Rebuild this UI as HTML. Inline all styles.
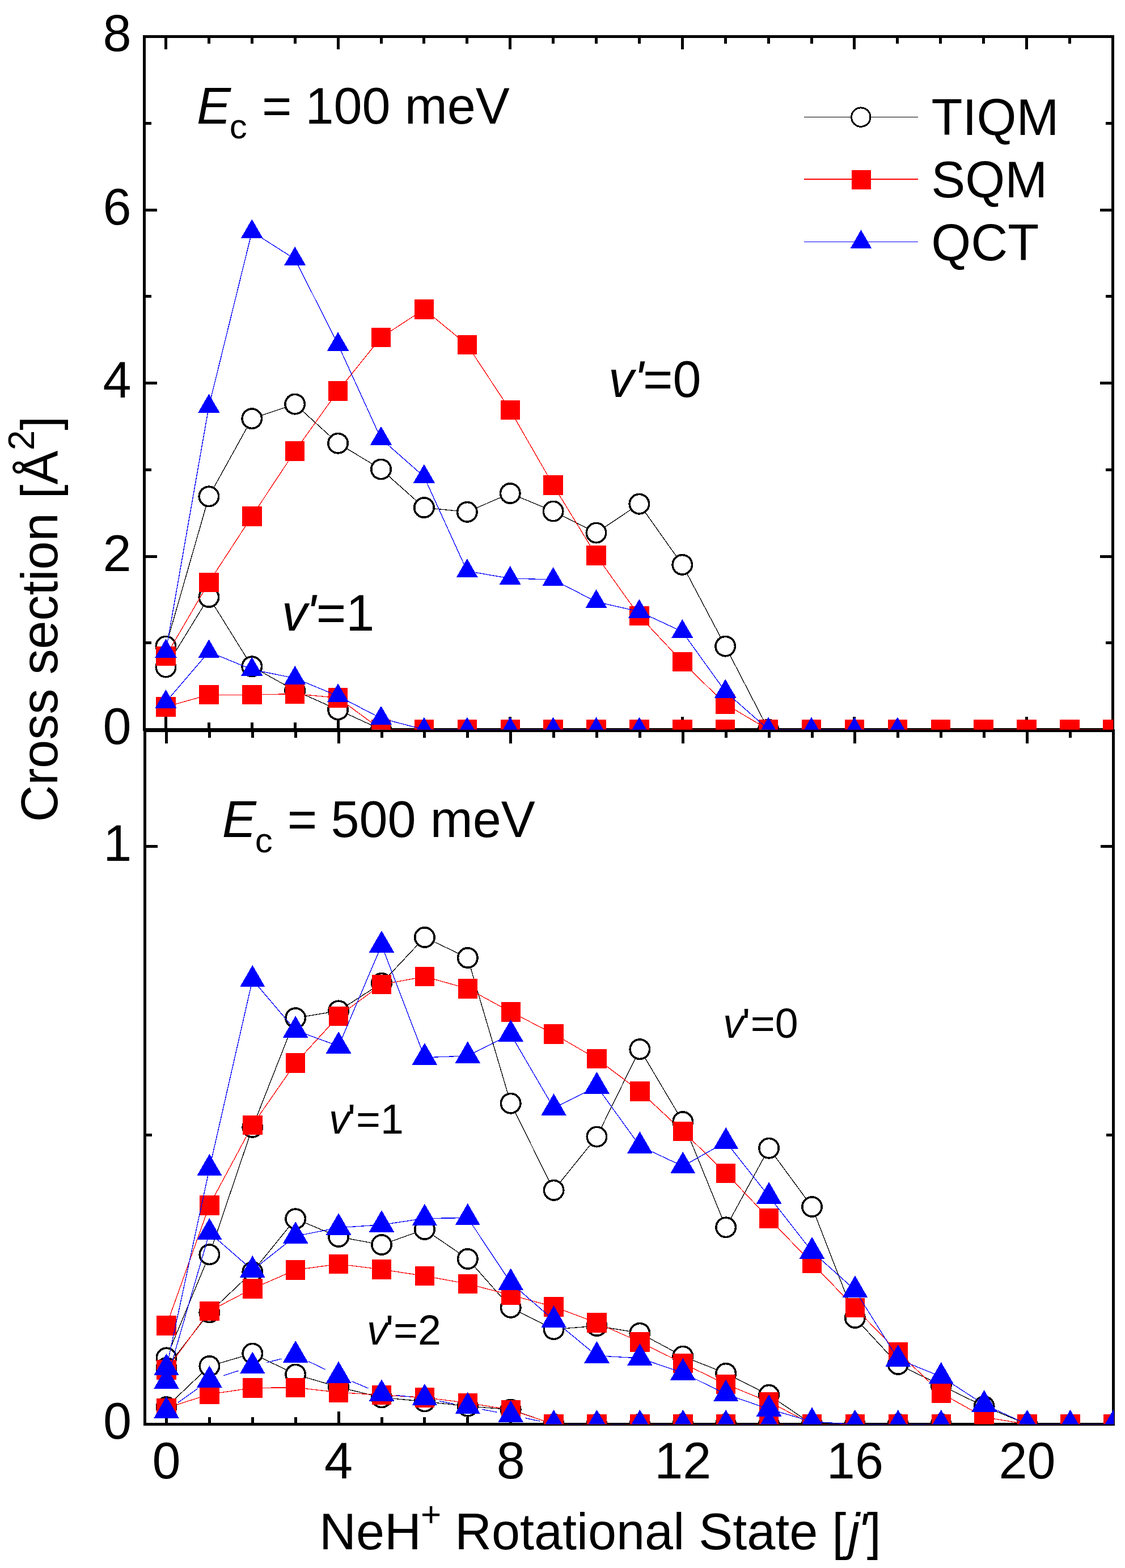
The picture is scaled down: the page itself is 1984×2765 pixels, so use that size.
<!DOCTYPE html>
<html><head><meta charset="utf-8"><title>NeH+ rotational state cross sections</title>
<style>html,body{margin:0;padding:0;background:#fff;}svg{display:block;}</style>
</head><body>
<svg width="1984" height="2765" viewBox="0 0 1984 2765" shape-rendering="crispEdges">
<defs><clipPath id="ct"><rect x="254.5" y="40" width="1709" height="1246.5"/></clipPath><clipPath id="cb"><rect x="255.5" y="1288.5" width="1709" height="1223"/></clipPath></defs>
<rect width="100%" height="100%" fill="#fff"/>
<g stroke="#000" stroke-width="5" fill="none">
<path d="M254.5 62V1289M252 64.5H1965M1962.5 62V1289M252 1286.5H1965"/>
<path d="M255.5 1286V2514M253 1288.5H1966M1963.5 1286V2514M253 2511.5H1966"/>
</g>
<path stroke="#000" stroke-width="5" fill="none" d="M292.5 67v20M292.5 1284v-20M293.5 1291v20M293.5 2509v-20M368.4 67v10M368.4 1284v-10M369.4 1291v10M369.4 2509v-10M444.3 67v10M444.3 1284v-10M445.3 1291v10M445.3 2509v-10M520.2 67v10M520.2 1284v-10M521.2 1291v10M521.2 2509v-10M596.1 67v20M596.1 1284v-20M597.1 1291v20M597.1 2509v-20M672 67v10M672 1284v-10M673 1291v10M673 2509v-10M747.9 67v10M747.9 1284v-10M748.9 1291v10M748.9 2509v-10M823.8 67v10M823.8 1284v-10M824.8 1291v10M824.8 2509v-10M899.7 67v20M899.7 1284v-20M900.7 1291v20M900.7 2509v-20M975.6 67v10M975.6 1284v-10M976.6 1291v10M976.6 2509v-10M1051.5 67v10M1051.5 1284v-10M1052.5 1291v10M1052.5 2509v-10M1127.4 67v10M1127.4 1284v-10M1128.4 1291v10M1128.4 2509v-10M1203.3 67v20M1203.3 1284v-20M1204.3 1291v20M1204.3 2509v-20M1279.2 67v10M1279.2 1284v-10M1280.2 1291v10M1280.2 2509v-10M1355.1 67v10M1355.1 1284v-10M1356.1 1291v10M1356.1 2509v-10M1431 67v10M1431 1284v-10M1432 1291v10M1432 2509v-10M1506.9 67v20M1506.9 1284v-20M1507.9 1291v20M1507.9 2509v-20M1582.8 67v10M1582.8 1284v-10M1583.8 1291v10M1583.8 2509v-10M1658.7 67v10M1658.7 1284v-10M1659.7 1291v10M1659.7 2509v-10M1734.6 67v10M1734.6 1284v-10M1735.6 1291v10M1735.6 2509v-10M1810.5 67v20M1810.5 1284v-20M1811.5 1291v20M1811.5 2509v-20M1886.4 67v10M1886.4 1284v-10M1887.4 1291v10M1887.4 2509v-10M1962.3 67v10M1962.3 1284v-10M1963.3 1291v10M1963.3 2509v-10M257 1286.5h20M1960 1286.5h-20M257 1133.75h10M1960 1133.75h-10M257 981h20M1960 981h-20M257 828.25h10M1960 828.25h-10M257 675.5h20M1960 675.5h-20M257 522.75h10M1960 522.75h-10M257 370h20M1960 370h-20M257 217.25h10M1960 217.25h-10M257 64.5h20M1960 64.5h-20M258 2001.75h10M1961 2001.75h-10M258 1492h20M1961 1492h-20"/>
<g clip-path="url(#ct)"><polyline points="292.5,1139.5 368.4,875.4 444.3,738.2 520.2,712.6 596.1,781.7 672,827.5 747.9,895.1 823.8,902.8 899.7,870 975.6,901.5 1051.5,939.6 1127.4,888.7 1203.3,995.8 1279.2,1139.6 1355.1,1286.5" fill="none" stroke="#000" stroke-width="1.3" stroke-linejoin="round" shape-rendering="crispEdges"/>
<g fill="#fff" stroke="#000" stroke-width="3.6"><circle cx="292.5" cy="1139.5" r="17.2"/><circle cx="368.4" cy="875.4" r="17.2"/><circle cx="444.3" cy="738.2" r="17.2"/><circle cx="520.2" cy="712.6" r="17.2"/><circle cx="596.1" cy="781.7" r="17.2"/><circle cx="672" cy="827.5" r="17.2"/><circle cx="747.9" cy="895.1" r="17.2"/><circle cx="823.8" cy="902.8" r="17.2"/><circle cx="899.7" cy="870" r="17.2"/><circle cx="975.6" cy="901.5" r="17.2"/><circle cx="1051.5" cy="939.6" r="17.2"/><circle cx="1127.4" cy="888.7" r="17.2"/><circle cx="1203.3" cy="995.8" r="17.2"/><circle cx="1279.2" cy="1139.6" r="17.2"/><circle cx="1355.1" cy="1286.5" r="17.2"/></g>
<polyline points="292.5,1176.5 368.4,1053 444.3,1175.3 520.2,1217.8 596.1,1251.5 672,1286.5" fill="none" stroke="#000" stroke-width="1.3" stroke-linejoin="round" shape-rendering="crispEdges"/>
<g fill="#fff" stroke="#000" stroke-width="3.6"><circle cx="292.5" cy="1176.5" r="17.2"/><circle cx="368.4" cy="1053" r="17.2"/><circle cx="444.3" cy="1175.3" r="17.2"/><circle cx="520.2" cy="1217.8" r="17.2"/><circle cx="596.1" cy="1251.5" r="17.2"/><circle cx="672" cy="1286.5" r="17.2"/></g>
<polyline points="292.5,1157.1 368.4,1026.8 444.3,910.4 520.2,795.5 596.1,689.4 672,595 747.9,545.4 823.8,607.9 899.7,723.2 975.6,855.4 1051.5,979.5 1127.4,1086 1203.3,1167.1 1279.2,1241.6 1355.1,1286.5 1431,1286.5 1506.9,1286.5 1582.8,1286.5 1658.7,1286.5 1734.6,1286.5 1810.5,1286.5 1886.4,1286.5 1962.3,1286.5" fill="none" stroke="#f00" stroke-width="1.3" stroke-linejoin="round" shape-rendering="crispEdges"/>
<g fill="#f00"><rect x="275.3" y="1139.9" width="34.4" height="34.4"/><rect x="351.2" y="1009.6" width="34.4" height="34.4"/><rect x="427.1" y="893.2" width="34.4" height="34.4"/><rect x="503" y="778.3" width="34.4" height="34.4"/><rect x="578.9" y="672.2" width="34.4" height="34.4"/><rect x="654.8" y="577.8" width="34.4" height="34.4"/><rect x="730.7" y="528.2" width="34.4" height="34.4"/><rect x="806.6" y="590.7" width="34.4" height="34.4"/><rect x="882.5" y="706" width="34.4" height="34.4"/><rect x="958.4" y="838.2" width="34.4" height="34.4"/><rect x="1034.3" y="962.3" width="34.4" height="34.4"/><rect x="1110.2" y="1068.8" width="34.4" height="34.4"/><rect x="1186.1" y="1149.9" width="34.4" height="34.4"/><rect x="1262" y="1224.4" width="34.4" height="34.4"/><rect x="1337.9" y="1269.3" width="34.4" height="34.4"/><rect x="1413.8" y="1269.3" width="34.4" height="34.4"/><rect x="1489.7" y="1269.3" width="34.4" height="34.4"/><rect x="1565.6" y="1269.3" width="34.4" height="34.4"/><rect x="1641.5" y="1269.3" width="34.4" height="34.4"/><rect x="1717.4" y="1269.3" width="34.4" height="34.4"/><rect x="1793.3" y="1269.3" width="34.4" height="34.4"/><rect x="1869.2" y="1269.3" width="34.4" height="34.4"/><rect x="1945.1" y="1269.3" width="34.4" height="34.4"/></g>
<polyline points="292.5,1246.3 368.4,1225.2 444.3,1225.2 520.2,1223.5 596.1,1230.6 672,1286.5 747.9,1286.5 823.8,1286.5 899.7,1286.5 975.6,1286.5 1051.5,1286.5 1127.4,1286.5 1203.3,1286.5 1279.2,1286.5" fill="none" stroke="#f00" stroke-width="1.3" stroke-linejoin="round" shape-rendering="crispEdges"/>
<g fill="#f00"><rect x="275.3" y="1229.1" width="34.4" height="34.4"/><rect x="351.2" y="1208" width="34.4" height="34.4"/><rect x="427.1" y="1208" width="34.4" height="34.4"/><rect x="503" y="1206.3" width="34.4" height="34.4"/><rect x="578.9" y="1213.4" width="34.4" height="34.4"/><rect x="654.8" y="1269.3" width="34.4" height="34.4"/><rect x="730.7" y="1269.3" width="34.4" height="34.4"/><rect x="806.6" y="1269.3" width="34.4" height="34.4"/><rect x="882.5" y="1269.3" width="34.4" height="34.4"/><rect x="958.4" y="1269.3" width="34.4" height="34.4"/><rect x="1034.3" y="1269.3" width="34.4" height="34.4"/><rect x="1110.2" y="1269.3" width="34.4" height="34.4"/><rect x="1186.1" y="1269.3" width="34.4" height="34.4"/><rect x="1262" y="1269.3" width="34.4" height="34.4"/></g>
<polyline points="292.5,1148.6 368.4,716.6 444.3,408.5 520.2,456.9 596.1,607.5 672,773.7 747.9,840.6 823.8,1007.1 899.7,1020 975.6,1022 1051.5,1061.2 1127.4,1078.5 1203.3,1113.9 1279.2,1219.5 1355.1,1286.5 1431,1286.5 1506.9,1286.5 1582.8,1286.5" fill="none" stroke="#00f" stroke-width="1.3" stroke-linejoin="round" shape-rendering="crispEdges"/>
<g fill="#00f"><path d="M292.5 1126.55L311.6 1159.63L273.4 1159.63Z"/><path d="M368.4 694.55L387.5 727.63L349.3 727.63Z"/><path d="M444.3 386.45L463.4 419.53L425.2 419.53Z"/><path d="M520.2 434.85L539.3 467.93L501.1 467.93Z"/><path d="M596.1 585.45L615.2 618.53L577 618.53Z"/><path d="M672 751.65L691.1 784.73L652.9 784.73Z"/><path d="M747.9 818.55L767 851.63L728.8 851.63Z"/><path d="M823.8 985.05L842.9 1018.13L804.7 1018.13Z"/><path d="M899.7 997.95L918.8 1031.03L880.6 1031.03Z"/><path d="M975.6 999.95L994.7 1033.03L956.5 1033.03Z"/><path d="M1051.5 1039.15L1070.6 1072.23L1032.4 1072.23Z"/><path d="M1127.4 1056.45L1146.5 1089.53L1108.3 1089.53Z"/><path d="M1203.3 1091.85L1222.4 1124.93L1184.2 1124.93Z"/><path d="M1279.2 1197.45L1298.3 1230.53L1260.1 1230.53Z"/><path d="M1355.1 1264.45L1374.2 1297.53L1336 1297.53Z"/><path d="M1431 1264.45L1450.1 1297.53L1411.9 1297.53Z"/><path d="M1506.9 1264.45L1526 1297.53L1487.8 1297.53Z"/><path d="M1582.8 1264.45L1601.9 1297.53L1563.7 1297.53Z"/></g>
<polyline points="292.5,1237.9 368.4,1149.4 444.3,1180.6 520.2,1196 596.1,1227.3 672,1266.7 747.9,1286.5 823.8,1286.5 899.7,1286.5 975.6,1286.5 1051.5,1286.5 1127.4,1286.5" fill="none" stroke="#00f" stroke-width="1.3" stroke-linejoin="round" shape-rendering="crispEdges"/>
<g fill="#00f"><path d="M292.5 1215.85L311.6 1248.93L273.4 1248.93Z"/><path d="M368.4 1127.35L387.5 1160.43L349.3 1160.43Z"/><path d="M444.3 1158.55L463.4 1191.63L425.2 1191.63Z"/><path d="M520.2 1173.95L539.3 1207.03L501.1 1207.03Z"/><path d="M596.1 1205.25L615.2 1238.33L577 1238.33Z"/><path d="M672 1244.65L691.1 1277.73L652.9 1277.73Z"/><path d="M747.9 1264.45L767 1297.53L728.8 1297.53Z"/><path d="M823.8 1264.45L842.9 1297.53L804.7 1297.53Z"/><path d="M899.7 1264.45L918.8 1297.53L880.6 1297.53Z"/><path d="M975.6 1264.45L994.7 1297.53L956.5 1297.53Z"/><path d="M1051.5 1264.45L1070.6 1297.53L1032.4 1297.53Z"/><path d="M1127.4 1264.45L1146.5 1297.53L1108.3 1297.53Z"/></g></g>
<g clip-path="url(#cb)"><polyline points="293.5,2394.4 369.4,2212.2 445.3,1987.8 521.2,1795.2 597.1,1782.4 673,1733.7 748.9,1652.9 824.8,1689 900.7,1945.7 976.6,2098.8 1052.5,2004.5 1128.4,1850.2 1204.3,1978.1 1280.2,2164.3 1356.1,2024.7 1432,2128 1507.9,2324 1583.8,2405.9 1659.7,2443 1735.6,2480 1811.5,2511.5" fill="none" stroke="#000" stroke-width="1.3" stroke-linejoin="round" shape-rendering="crispEdges"/>
<g fill="#fff" stroke="#000" stroke-width="3.6"><circle cx="293.5" cy="2394.4" r="17.2"/><circle cx="369.4" cy="2212.2" r="17.2"/><circle cx="445.3" cy="1987.8" r="17.2"/><circle cx="521.2" cy="1795.2" r="17.2"/><circle cx="597.1" cy="1782.4" r="17.2"/><circle cx="673" cy="1733.7" r="17.2"/><circle cx="748.9" cy="1652.9" r="17.2"/><circle cx="824.8" cy="1689" r="17.2"/><circle cx="900.7" cy="1945.7" r="17.2"/><circle cx="976.6" cy="2098.8" r="17.2"/><circle cx="1052.5" cy="2004.5" r="17.2"/><circle cx="1128.4" cy="1850.2" r="17.2"/><circle cx="1204.3" cy="1978.1" r="17.2"/><circle cx="1280.2" cy="2164.3" r="17.2"/><circle cx="1356.1" cy="2024.7" r="17.2"/><circle cx="1432" cy="2128" r="17.2"/><circle cx="1507.9" cy="2324" r="17.2"/><circle cx="1583.8" cy="2405.9" r="17.2"/><circle cx="1659.7" cy="2443" r="17.2"/><circle cx="1735.6" cy="2480" r="17.2"/><circle cx="1811.5" cy="2511.5" r="17.2"/></g>
<polyline points="293.5,2412 369.4,2314.4 445.3,2242.9 521.2,2149.3 597.1,2181 673,2195 748.9,2168 824.8,2219.9 900.7,2305.8 976.6,2344.2 1052.5,2338 1128.4,2350.8 1204.3,2391.6 1280.2,2421.8 1356.1,2459.8 1432,2511.5 1507.9,2511.5 1583.8,2511.5 1659.7,2511.5" fill="none" stroke="#000" stroke-width="1.3" stroke-linejoin="round" shape-rendering="crispEdges"/>
<g fill="#fff" stroke="#000" stroke-width="3.6"><circle cx="293.5" cy="2412" r="17.2"/><circle cx="369.4" cy="2314.4" r="17.2"/><circle cx="445.3" cy="2242.9" r="17.2"/><circle cx="521.2" cy="2149.3" r="17.2"/><circle cx="597.1" cy="2181" r="17.2"/><circle cx="673" cy="2195" r="17.2"/><circle cx="748.9" cy="2168" r="17.2"/><circle cx="824.8" cy="2219.9" r="17.2"/><circle cx="900.7" cy="2305.8" r="17.2"/><circle cx="976.6" cy="2344.2" r="17.2"/><circle cx="1052.5" cy="2338" r="17.2"/><circle cx="1128.4" cy="2350.8" r="17.2"/><circle cx="1204.3" cy="2391.6" r="17.2"/><circle cx="1280.2" cy="2421.8" r="17.2"/><circle cx="1356.1" cy="2459.8" r="17.2"/><circle cx="1432" cy="2511.5" r="17.2"/><circle cx="1507.9" cy="2511.5" r="17.2"/><circle cx="1583.8" cy="2511.5" r="17.2"/><circle cx="1659.7" cy="2511.5" r="17.2"/></g>
<polyline points="293.5,2481.1 369.4,2409 445.3,2386.7 521.2,2423.6 597.1,2446 673,2464.4 748.9,2471.4 824.8,2479.7 900.7,2485.6 976.6,2511.5 1052.5,2511.5 1128.4,2511.5 1204.3,2511.5 1280.2,2511.5 1356.1,2511.5 1432,2511.5 1507.9,2511.5 1583.8,2511.5 1659.7,2511.5" fill="none" stroke="#000" stroke-width="1.3" stroke-linejoin="round" shape-rendering="crispEdges"/>
<g fill="#fff" stroke="#000" stroke-width="3.6"><circle cx="293.5" cy="2481.1" r="17.2"/><circle cx="369.4" cy="2409" r="17.2"/><circle cx="445.3" cy="2386.7" r="17.2"/><circle cx="521.2" cy="2423.6" r="17.2"/><circle cx="597.1" cy="2446" r="17.2"/><circle cx="673" cy="2464.4" r="17.2"/><circle cx="748.9" cy="2471.4" r="17.2"/><circle cx="824.8" cy="2479.7" r="17.2"/><circle cx="900.7" cy="2485.6" r="17.2"/><circle cx="976.6" cy="2511.5" r="17.2"/><circle cx="1052.5" cy="2511.5" r="17.2"/><circle cx="1128.4" cy="2511.5" r="17.2"/><circle cx="1204.3" cy="2511.5" r="17.2"/><circle cx="1280.2" cy="2511.5" r="17.2"/><circle cx="1356.1" cy="2511.5" r="17.2"/><circle cx="1432" cy="2511.5" r="17.2"/><circle cx="1507.9" cy="2511.5" r="17.2"/><circle cx="1583.8" cy="2511.5" r="17.2"/><circle cx="1659.7" cy="2511.5" r="17.2"/></g>
<polyline points="293.5,2337.4 369.4,2125.3 445.3,1984 521.2,1874.4 597.1,1791.8 673,1736.1 748.9,1722.1 824.8,1743.3 900.7,1784.4 976.6,1823.3 1052.5,1867.2 1128.4,1924.3 1204.3,1995 1280.2,2068.8 1356.1,2148.5 1432,2227.5 1507.9,2306.2 1583.8,2384.3 1659.7,2456.7 1735.6,2499 1811.5,2511.5 1887.4,2511.5 1963.3,2511.5" fill="none" stroke="#f00" stroke-width="1.3" stroke-linejoin="round" shape-rendering="crispEdges"/>
<g fill="#f00"><rect x="276.3" y="2320.2" width="34.4" height="34.4"/><rect x="352.2" y="2108.1" width="34.4" height="34.4"/><rect x="428.1" y="1966.8" width="34.4" height="34.4"/><rect x="504" y="1857.2" width="34.4" height="34.4"/><rect x="579.9" y="1774.6" width="34.4" height="34.4"/><rect x="655.8" y="1718.9" width="34.4" height="34.4"/><rect x="731.7" y="1704.9" width="34.4" height="34.4"/><rect x="807.6" y="1726.1" width="34.4" height="34.4"/><rect x="883.5" y="1767.2" width="34.4" height="34.4"/><rect x="959.4" y="1806.1" width="34.4" height="34.4"/><rect x="1035.3" y="1850" width="34.4" height="34.4"/><rect x="1111.2" y="1907.1" width="34.4" height="34.4"/><rect x="1187.1" y="1977.8" width="34.4" height="34.4"/><rect x="1263" y="2051.6" width="34.4" height="34.4"/><rect x="1338.9" y="2131.3" width="34.4" height="34.4"/><rect x="1414.8" y="2210.3" width="34.4" height="34.4"/><rect x="1490.7" y="2289" width="34.4" height="34.4"/><rect x="1566.6" y="2367.1" width="34.4" height="34.4"/><rect x="1642.5" y="2439.5" width="34.4" height="34.4"/><rect x="1718.4" y="2481.8" width="34.4" height="34.4"/><rect x="1794.3" y="2494.3" width="34.4" height="34.4"/><rect x="1870.2" y="2494.3" width="34.4" height="34.4"/><rect x="1946.1" y="2494.3" width="34.4" height="34.4"/></g>
<polyline points="293.5,2415.4 369.4,2311.9 445.3,2272.4 521.2,2239.3 597.1,2229 673,2238.5 748.9,2250 824.8,2263.9 900.7,2283.7 976.6,2304.3 1052.5,2332.5 1128.4,2366.5 1204.3,2404 1280.2,2441.1 1356.1,2471.9 1432,2511.5 1507.9,2511.5 1583.8,2511.5 1659.7,2511.5" fill="none" stroke="#f00" stroke-width="1.3" stroke-linejoin="round" shape-rendering="crispEdges"/>
<g fill="#f00"><rect x="276.3" y="2398.2" width="34.4" height="34.4"/><rect x="352.2" y="2294.7" width="34.4" height="34.4"/><rect x="428.1" y="2255.2" width="34.4" height="34.4"/><rect x="504" y="2222.1" width="34.4" height="34.4"/><rect x="579.9" y="2211.8" width="34.4" height="34.4"/><rect x="655.8" y="2221.3" width="34.4" height="34.4"/><rect x="731.7" y="2232.8" width="34.4" height="34.4"/><rect x="807.6" y="2246.7" width="34.4" height="34.4"/><rect x="883.5" y="2266.5" width="34.4" height="34.4"/><rect x="959.4" y="2287.1" width="34.4" height="34.4"/><rect x="1035.3" y="2315.3" width="34.4" height="34.4"/><rect x="1111.2" y="2349.3" width="34.4" height="34.4"/><rect x="1187.1" y="2386.8" width="34.4" height="34.4"/><rect x="1263" y="2423.9" width="34.4" height="34.4"/><rect x="1338.9" y="2454.7" width="34.4" height="34.4"/><rect x="1414.8" y="2494.3" width="34.4" height="34.4"/><rect x="1490.7" y="2494.3" width="34.4" height="34.4"/><rect x="1566.6" y="2494.3" width="34.4" height="34.4"/><rect x="1642.5" y="2494.3" width="34.4" height="34.4"/></g>
<polyline points="293.5,2483 369.4,2458.6 445.3,2447.5 521.2,2446.7 597.1,2455.4 673,2460 748.9,2464.3 824.8,2473.9 900.7,2486 976.6,2511.5 1052.5,2511.5 1128.4,2511.5 1204.3,2511.5 1280.2,2511.5 1356.1,2511.5 1432,2511.5 1507.9,2511.5 1583.8,2511.5 1659.7,2511.5" fill="none" stroke="#f00" stroke-width="1.3" stroke-linejoin="round" shape-rendering="crispEdges"/>
<g fill="#f00"><rect x="276.3" y="2465.8" width="34.4" height="34.4"/><rect x="352.2" y="2441.4" width="34.4" height="34.4"/><rect x="428.1" y="2430.3" width="34.4" height="34.4"/><rect x="504" y="2429.5" width="34.4" height="34.4"/><rect x="579.9" y="2438.2" width="34.4" height="34.4"/><rect x="655.8" y="2442.8" width="34.4" height="34.4"/><rect x="731.7" y="2447.1" width="34.4" height="34.4"/><rect x="807.6" y="2456.7" width="34.4" height="34.4"/><rect x="883.5" y="2468.8" width="34.4" height="34.4"/><rect x="959.4" y="2494.3" width="34.4" height="34.4"/><rect x="1035.3" y="2494.3" width="34.4" height="34.4"/><rect x="1111.2" y="2494.3" width="34.4" height="34.4"/><rect x="1187.1" y="2494.3" width="34.4" height="34.4"/><rect x="1263" y="2494.3" width="34.4" height="34.4"/><rect x="1338.9" y="2494.3" width="34.4" height="34.4"/><rect x="1414.8" y="2494.3" width="34.4" height="34.4"/><rect x="1490.7" y="2494.3" width="34.4" height="34.4"/><rect x="1566.6" y="2494.3" width="34.4" height="34.4"/><rect x="1642.5" y="2494.3" width="34.4" height="34.4"/></g>
<polyline points="293.5,2412.5 369.4,2060.5 445.3,1727.5 521.2,1817 597.1,1844.7 673,1666.7 748.9,1864.8 824.8,1861.9 900.7,1823.8 976.6,1954 1052.5,1915.7 1128.4,2020.9 1204.3,2056.5 1280.2,2013.6 1356.1,2109.8 1432,2206.8 1507.9,2274.9 1583.8,2396.7 1659.7,2427.6 1735.6,2476.8 1811.5,2511.5 1887.4,2511.5 1963.3,2511.5" fill="none" stroke="#00f" stroke-width="1.3" stroke-linejoin="round" shape-rendering="crispEdges"/>
<g fill="#00f"><path d="M293.5 2386.81L315.75 2425.35L271.25 2425.35Z"/><path d="M369.4 2034.81L391.65 2073.35L347.15 2073.35Z"/><path d="M445.3 1701.81L467.55 1740.35L423.05 1740.35Z"/><path d="M521.2 1791.31L543.45 1829.85L498.95 1829.85Z"/><path d="M597.1 1819.01L619.35 1857.55L574.85 1857.55Z"/><path d="M673 1641.01L695.25 1679.55L650.75 1679.55Z"/><path d="M748.9 1839.11L771.15 1877.65L726.65 1877.65Z"/><path d="M824.8 1836.21L847.05 1874.75L802.55 1874.75Z"/><path d="M900.7 1798.11L922.95 1836.65L878.45 1836.65Z"/><path d="M976.6 1928.31L998.85 1966.85L954.35 1966.85Z"/><path d="M1052.5 1890.01L1074.75 1928.55L1030.25 1928.55Z"/><path d="M1128.4 1995.21L1150.65 2033.75L1106.15 2033.75Z"/><path d="M1204.3 2030.81L1226.55 2069.35L1182.05 2069.35Z"/><path d="M1280.2 1987.91L1302.45 2026.45L1257.95 2026.45Z"/><path d="M1356.1 2084.11L1378.35 2122.65L1333.85 2122.65Z"/><path d="M1432 2181.11L1454.25 2219.65L1409.75 2219.65Z"/><path d="M1507.9 2249.21L1530.15 2287.75L1485.65 2287.75Z"/><path d="M1583.8 2371.01L1606.05 2409.55L1561.55 2409.55Z"/><path d="M1659.7 2401.91L1681.95 2440.45L1637.45 2440.45Z"/><path d="M1735.6 2451.11L1757.85 2489.65L1713.35 2489.65Z"/><path d="M1811.5 2485.81L1833.75 2524.35L1789.25 2524.35Z"/><path d="M1887.4 2485.81L1909.65 2524.35L1865.15 2524.35Z"/><path d="M1963.3 2485.81L1985.55 2524.35L1941.05 2524.35Z"/></g>
<polyline points="293.5,2435.9 369.4,2173.6 445.3,2239.8 521.2,2179.8 597.1,2164.8 673,2159.8 748.9,2148.5 824.8,2147.6 900.7,2262 976.6,2328 1052.5,2390.7 1128.4,2395 1204.3,2420.7 1280.2,2458.5 1356.1,2484.7 1432,2507 1507.9,2511.5 1583.8,2511.5 1659.7,2511.5" fill="none" stroke="#00f" stroke-width="1.3" stroke-linejoin="round" shape-rendering="crispEdges"/>
<g fill="#00f"><path d="M293.5 2410.21L315.75 2448.75L271.25 2448.75Z"/><path d="M369.4 2147.91L391.65 2186.45L347.15 2186.45Z"/><path d="M445.3 2214.11L467.55 2252.65L423.05 2252.65Z"/><path d="M521.2 2154.11L543.45 2192.65L498.95 2192.65Z"/><path d="M597.1 2139.11L619.35 2177.65L574.85 2177.65Z"/><path d="M673 2134.11L695.25 2172.65L650.75 2172.65Z"/><path d="M748.9 2122.81L771.15 2161.35L726.65 2161.35Z"/><path d="M824.8 2121.91L847.05 2160.45L802.55 2160.45Z"/><path d="M900.7 2236.31L922.95 2274.85L878.45 2274.85Z"/><path d="M976.6 2302.31L998.85 2340.85L954.35 2340.85Z"/><path d="M1052.5 2365.01L1074.75 2403.55L1030.25 2403.55Z"/><path d="M1128.4 2369.31L1150.65 2407.85L1106.15 2407.85Z"/><path d="M1204.3 2395.01L1226.55 2433.55L1182.05 2433.55Z"/><path d="M1280.2 2432.81L1302.45 2471.35L1257.95 2471.35Z"/><path d="M1356.1 2459.01L1378.35 2497.55L1333.85 2497.55Z"/><path d="M1432 2481.31L1454.25 2519.85L1409.75 2519.85Z"/><path d="M1507.9 2485.81L1530.15 2524.35L1485.65 2524.35Z"/><path d="M1583.8 2485.81L1606.05 2524.35L1561.55 2524.35Z"/><path d="M1659.7 2485.81L1681.95 2524.35L1637.45 2524.35Z"/></g>
<path d="M314.24 2473.16L348.66 2448.54M393.67 2425.87L421.03 2417.03M470 2402.85L496.5 2396.05M544.19 2400.73L574.11 2415.07M620.62 2435.95L649.48 2448.05M698.37 2460.47L723.53 2463.03M773.93 2470.48L799.77 2475.52M849.84 2485.22L875.66 2490.18M925.62 2500.42L951.68 2506.08M1002.1 2511.5L1027 2511.5M1078 2511.5L1102.9 2511.5M1153.9 2511.5L1178.8 2511.5M1229.8 2511.5L1254.7 2511.5M1305.7 2511.5L1330.6 2511.5M1381.6 2511.5L1406.5 2511.5M1457.5 2511.5L1482.4 2511.5M1533.4 2511.5L1558.3 2511.5M1609.3 2511.5L1634.2 2511.5" fill="none" stroke="#00f" stroke-width="1.3" shape-rendering="crispEdges"/>
<g fill="#00f"><path d="M293.5 2462.31L315.75 2500.85L271.25 2500.85Z"/><path d="M369.4 2408.01L391.65 2446.55L347.15 2446.55Z"/><path d="M445.3 2383.51L467.55 2422.05L423.05 2422.05Z"/><path d="M521.2 2364.01L543.45 2402.55L498.95 2402.55Z"/><path d="M597.1 2400.41L619.35 2438.95L574.85 2438.95Z"/><path d="M673 2432.21L695.25 2470.75L650.75 2470.75Z"/><path d="M748.9 2439.91L771.15 2478.45L726.65 2478.45Z"/><path d="M824.8 2454.71L847.05 2493.25L802.55 2493.25Z"/><path d="M900.7 2469.31L922.95 2507.85L878.45 2507.85Z"/><path d="M976.6 2485.81L998.85 2524.35L954.35 2524.35Z"/><path d="M1052.5 2485.81L1074.75 2524.35L1030.25 2524.35Z"/><path d="M1128.4 2485.81L1150.65 2524.35L1106.15 2524.35Z"/><path d="M1204.3 2485.81L1226.55 2524.35L1182.05 2524.35Z"/><path d="M1280.2 2485.81L1302.45 2524.35L1257.95 2524.35Z"/><path d="M1356.1 2485.81L1378.35 2524.35L1333.85 2524.35Z"/><path d="M1432 2485.81L1454.25 2524.35L1409.75 2524.35Z"/><path d="M1507.9 2485.81L1530.15 2524.35L1485.65 2524.35Z"/><path d="M1583.8 2485.81L1606.05 2524.35L1561.55 2524.35Z"/><path d="M1659.7 2485.81L1681.95 2524.35L1637.45 2524.35Z"/></g></g>
<path d="M1418 206.5H1619" stroke="#000" stroke-width="1.3"/>
<circle cx="1518.3" cy="206.6" r="16.7" fill="#fff" stroke="#000" stroke-width="3.0"/>
<path d="M1418 316.1H1619" stroke="#f00" stroke-width="1.3"/>
<rect x="1502" y="299.8" width="34" height="34" fill="#f00"/>
<path d="M1418 426.4H1619" stroke="#00f" stroke-width="1.3"/>
<g fill="#00f"><path d="M1518.5 405.31L1537.2 437.7L1499.8 437.7Z"/></g>
<g font-family="'Liberation Sans', Arial, Helvetica, sans-serif" font-size="90" fill="#000">
<text x="231.5" y="1312.4" text-anchor="end">0</text>
<text x="231.5" y="1006.9" text-anchor="end">2</text>
<text x="231.5" y="701.4" text-anchor="end">4</text>
<text x="231.5" y="395.9" text-anchor="end">6</text>
<text x="231.5" y="90.4" text-anchor="end">8</text>
<text x="232.2" y="1517.9" text-anchor="end">1</text>
<text x="232" y="2537.4" text-anchor="end">0</text>
<text x="293.5" y="2606.5" text-anchor="middle">0</text>
<text x="597.1" y="2606.5" text-anchor="middle">4</text>
<text x="900.7" y="2606.5" text-anchor="middle">8</text>
<text x="1204.3" y="2606.5" text-anchor="middle">12</text>
<text x="1507.9" y="2606.5" text-anchor="middle">16</text>
<text x="1811.5" y="2606.5" text-anchor="middle">20</text>
<text x="1642.6" y="238.4">TIQM</text>
<text x="1642.2" y="348.4">SQM</text>
<text x="1642.2" y="458.6">QCT</text>
<text y="218"><tspan x="347" font-style="italic">E</tspan><tspan x="404.7" dy="26.4" font-size="62">c</tspan><tspan x="461.9" dy="-26.4">=</tspan><tspan x="538.5">100 meV</tspan></text>
<text y="1476.1"><tspan x="391.7" font-style="italic">E</tspan><tspan x="449.7" dy="26.4" font-size="62">c</tspan><tspan x="506.7" dy="-26.4">=</tspan><tspan x="583.5">500 meV</tspan></text>
<text y="700"><tspan x="1073" font-style="italic">v</tspan><tspan x="1117.8" font-style="italic">'</tspan><tspan x="1133.9">=0</tspan></text>
<text y="1112"><tspan x="497" font-style="italic">v</tspan><tspan x="539.7" font-style="italic">'</tspan><tspan x="557.7">=1</tspan></text>
</g>
<g font-family="'Liberation Sans', Arial, Helvetica, sans-serif" font-size="73.5" fill="#000">
<text y="1829.7"><tspan x="1274.9" font-style="italic">v</tspan><tspan x="1309.1">'</tspan><tspan x="1323.8">=0</tspan></text>
<text y="1998.7"><tspan x="579.9" font-style="italic">v</tspan><tspan x="613">'</tspan><tspan x="628.1">=1</tspan></text>
<text y="2371"><tspan x="647.1" font-style="italic">v</tspan><tspan x="680.1">'</tspan><tspan x="694.1">=2</tspan></text>
</g>
<g font-family="'Liberation Sans', Arial, Helvetica, sans-serif" font-size="90" fill="#000">
<text transform="translate(100.5 1449.6) rotate(-90)">Cross section [Å<tspan font-size="64" dy="-41">2</tspan><tspan dy="41">]</tspan></text>
<text y="2731.8"><tspan x="562.9">NeH</tspan><tspan x="742.1" y="2690.5" font-size="62">+</tspan><tspan x="776.9" y="2731.8"> Rotational State [</tspan><tspan x="1496" font-style="italic">j</tspan><tspan x="1512" font-style="italic">'</tspan><tspan x="1528.8">]</tspan></text>
</g>
</svg>
</body></html>
